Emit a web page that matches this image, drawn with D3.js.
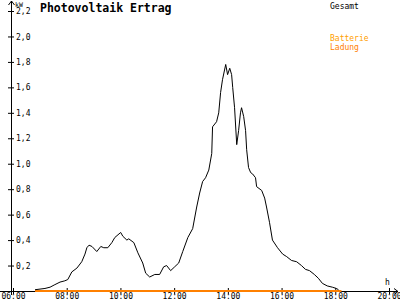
<!DOCTYPE html>
<html>
<head>
<meta charset="utf-8">
<script src="https://cdn.jsdelivr.net/npm/d3@7"></script>
<style>
  body { margin: 0; background: #fff; }
  svg { display: block; font-family: "DejaVu Sans Mono", monospace; }
</style>
</head>
<body>
<svg id="chart" width="400" height="300"></svg>
<script>
// Gesamt: time of day (hours) and power (kW)
var gesamtHours = [6.82, 7.19, 7.38, 7.56, 7.75, 7.93, 8.04, 8.19, 8.38, 8.56, 8.68, 8.75, 8.83, 8.94,
  9.12, 9.27, 9.38, 9.53, 9.68, 9.79, 10.01, 10.09, 10.24, 10.31, 10.50, 10.65, 10.83, 10.94,
  11.09, 11.28, 11.46, 11.61, 11.72, 11.87, 12.02, 12.17, 12.32, 12.51, 12.69, 12.84, 12.95,
  13.06, 13.17, 13.29, 13.40, 13.43, 13.58, 13.66, 13.73, 13.80, 13.92, 13.99, 14.07, 14.14,
  14.18, 14.25, 14.33, 14.40, 14.47, 14.51, 14.59, 14.66, 14.70, 14.77, 14.85, 14.92, 15.03,
  15.07, 15.26, 15.37, 15.44, 15.55, 15.66, 15.85, 16.04, 16.19, 16.37, 16.56, 16.74, 16.89,
  17.04, 17.22, 17.37, 17.52, 17.70, 17.89, 18.04, 18.12];
var gesamtKW = [0.01, 0.02, 0.03, 0.05, 0.07, 0.08, 0.09, 0.15, 0.18, 0.23, 0.29, 0.34, 0.36, 0.35,
  0.31, 0.35, 0.34, 0.34, 0.38, 0.42, 0.46, 0.43, 0.40, 0.41, 0.38, 0.30, 0.22, 0.14,
  0.11, 0.13, 0.13, 0.19, 0.20, 0.16, 0.19, 0.22, 0.31, 0.42, 0.49, 0.66, 0.77,
  0.86, 0.89, 0.95, 1.08, 1.29, 1.33, 1.40, 1.56, 1.66, 1.78, 1.70, 1.75, 1.70,
  1.60, 1.44, 1.15, 1.26, 1.40, 1.44, 1.37, 1.26, 1.11, 0.97, 0.93, 0.92, 0.89,
  0.82, 0.79, 0.73, 0.66, 0.54, 0.40, 0.34, 0.29, 0.27, 0.24, 0.23, 0.20, 0.17,
  0.16, 0.13, 0.10, 0.06, 0.04, 0.03, 0.02, 0.01];

// Batterie Ladung: stays at zero the whole day
var ladungHours = [6.82, 18.23];
var ladungKW = [0, 0];

var yTicks = [0.2, 0.4, 0.6, 0.8, 1.0, 1.2, 1.4, 1.6, 1.8, 2.0, 2.2];
var xTicks = [6, 8, 10, 12, 14, 16, 18, 20];

var svg = d3.select("#chart");
var x = d3.scaleLinear().domain([6, 20]).range([13, 389]);
var y = d3.scaleLinear().domain([0, 2.2]).range([291, 11]);

function pad(n) { return (n < 10 ? "0" : "") + n; }

// title and legend
svg.append("text").attr("x", 40).attr("y", 12)
  .attr("font-size", "11.5px").attr("font-weight", "bold").text("Photovoltaik Ertrag");
svg.append("text").attr("x", 15).attr("y", 7).attr("font-size", "6.5px").text("kW");
svg.append("text").attr("x", 330).attr("y", 9).attr("font-size", "8px").text("Gesamt");
svg.append("text").attr("x", 330).attr("y", 41).attr("font-size", "8px")
  .attr("fill", "#ffa000").text("Batterie");
svg.append("text").attr("x", 330).attr("y", 50).attr("font-size", "8px")
  .attr("fill", "#ff8000").text("Ladung");

// y axis
var yAxis = svg.append("g").attr("transform", "translate(11,0)")
  .call(d3.axisRight(y).tickValues(yTicks).tickSizeInner(3).tickSizeOuter(0).tickPadding(2)
    .tickFormat(function(d) { return d.toFixed(1).replace(".", ","); }));
yAxis.select(".domain").remove();
yAxis.selectAll(".tick line").attr("x1", -3).attr("stroke", "#000");
yAxis.selectAll(".tick text").attr("font-size", "8px").attr("font-family", "DejaVu Sans Mono")
  .attr("fill", "#000");
svg.append("line").attr("x1", 11.5).attr("x2", 11.5).attr("y1", 1).attr("y2", 295).attr("stroke", "#000");
svg.append("path").attr("d", "M8.5,5L11.5,1L14.5,5").attr("fill", "none").attr("stroke", "#000");

// x axis
var xAxis = svg.append("g").attr("transform", "translate(0,291)")
  .call(d3.axisBottom(x).tickValues(xTicks).tickSizeInner(3).tickSizeOuter(0).tickPadding(-1)
    .tickFormat(function(d) { return pad(d) + ":00"; }));
xAxis.select(".domain").remove();
xAxis.selectAll(".tick line").attr("y1", -3).attr("stroke", "#000");
xAxis.selectAll(".tick text").attr("font-size", "8px").attr("font-family", "DejaVu Sans Mono")
  .attr("fill", "#000");
svg.append("line").attr("x1", 0).attr("x2", 398).attr("y1", 291.5).attr("y2", 291.5).attr("stroke", "#000");
svg.append("path").attr("d", "M394,288.5L398,291.5L394,294.5").attr("fill", "none").attr("stroke", "#000");
svg.append("text").attr("x", 385).attr("y", 285).attr("font-size", "8px").text("h");

// series
var line = d3.line().x(function(d) { return x(d[0]); }).y(function(d) { return y(d[1]); });

svg.append("path").datum(d3.zip(ladungHours, ladungKW))
  .attr("d", line).attr("fill", "none").attr("stroke", "#ff8000").attr("stroke-width", 2);

svg.append("path").datum(d3.zip(gesamtHours, gesamtKW))
  .attr("d", line).attr("fill", "none").attr("stroke", "#000").attr("stroke-width", 1);
</script>
</body>
</html>
